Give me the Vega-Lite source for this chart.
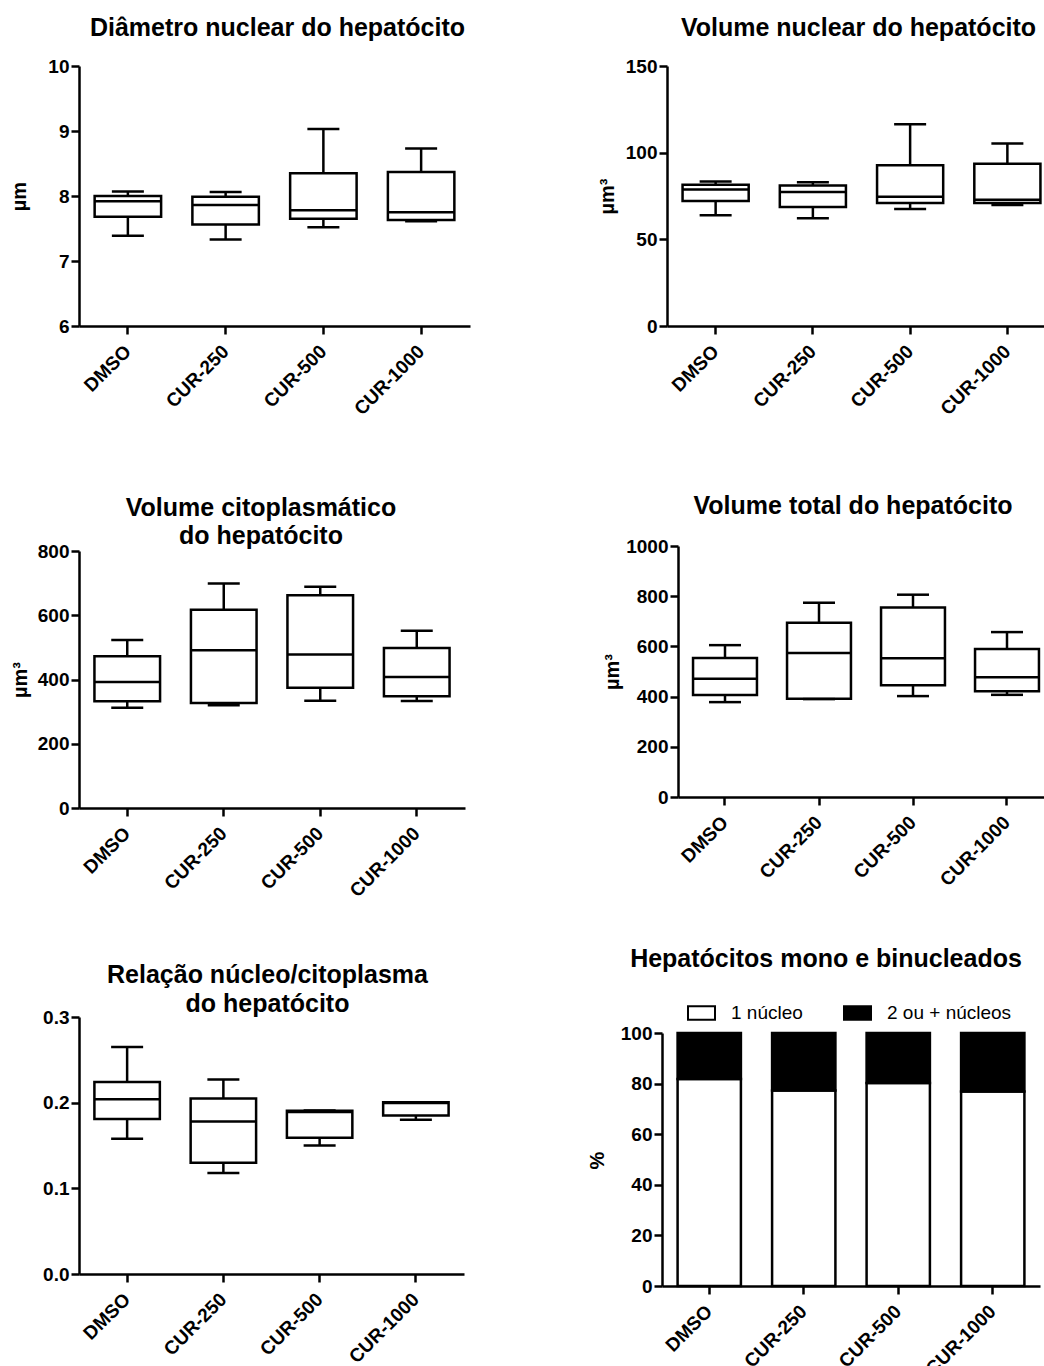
{
  "$schema": "https://vega.github.io/schema/vega-lite/v6.json",
  "background": "white",
  "padding": {"left": 9, "top": 16, "right": 0, "bottom": 0},
  "config": {
    "view": {"stroke": null},
    "font": "Liberation Sans",
    "axis": {
      "grid": false,
      "domainColor": "black",
      "domainWidth": 2.5,
      "tickColor": "black",
      "tickWidth": 2.5,
      "tickSize": 8,
      "labelFont": "Liberation Sans",
      "labelFontSize": 19,
      "labelFontWeight": "bold",
      "labelColor": "black",
      "labelPadding": 2,
      "labelOverlap": false,
      "labelFlush": false,
      "titleFont": "Liberation Sans",
      "titleFontSize": 20,
      "titleFontWeight": "bold",
      "titleColor": "black"
    },
    "axisX": {"labelAngle": -45, "labelAlign": "right", "labelBaseline": "middle", "labelPadding": 14},
    "title": {"font": "Liberation Sans", "fontSize": 25, "fontWeight": "bold", "color": "black", "anchor": "middle", "frame": "group", "lineHeight": 28},
    "mark": {"opacity": 1}
  },
  "datasets": {
    "diametro": [
      {"grupo": "DMSO", "min": 7.39, "q1": 7.68, "mediana": 7.92, "q3": 8.00, "max": 8.07},
      {"grupo": "CUR-250", "min": 7.33, "q1": 7.56, "mediana": 7.86, "q3": 7.99, "max": 8.06},
      {"grupo": "CUR-500", "min": 7.52, "q1": 7.65, "mediana": 7.78, "q3": 8.35, "max": 9.03},
      {"grupo": "CUR-1000", "min": 7.61, "q1": 7.63, "mediana": 7.75, "q3": 8.37, "max": 8.73}
    ],
    "volnuc": [
      {"grupo": "DMSO", "min": 63.9, "q1": 72.1, "mediana": 78.8, "q3": 81.5, "max": 83.4},
      {"grupo": "CUR-250", "min": 62.1, "q1": 68.7, "mediana": 77.3, "q3": 81.1, "max": 83.0},
      {"grupo": "CUR-500", "min": 67.5, "q1": 71.0, "mediana": 74.6, "q3": 92.8, "max": 116.4},
      {"grupo": "CUR-1000", "min": 69.8, "q1": 71.0, "mediana": 72.9, "q3": 93.6, "max": 105.3}
    ],
    "volcit": [
      {"grupo": "DMSO", "min": 312, "q1": 332, "mediana": 392, "q3": 472, "max": 523},
      {"grupo": "CUR-250", "min": 320, "q1": 327, "mediana": 491, "q3": 617, "max": 699},
      {"grupo": "CUR-500", "min": 334, "q1": 374, "mediana": 478, "q3": 662, "max": 689},
      {"grupo": "CUR-1000", "min": 333, "q1": 348, "mediana": 408, "q3": 498, "max": 552}
    ],
    "voltot": [
      {"grupo": "DMSO", "min": 378, "q1": 406, "mediana": 471, "q3": 554, "max": 605},
      {"grupo": "CUR-250", "min": 390, "q1": 391, "mediana": 574, "q3": 694, "max": 774},
      {"grupo": "CUR-500", "min": 402, "q1": 445, "mediana": 553, "q3": 755, "max": 806},
      {"grupo": "CUR-1000", "min": 407, "q1": 421, "mediana": 477, "q3": 590, "max": 657}
    ],
    "relacao": [
      {"grupo": "DMSO", "min": 0.158, "q1": 0.181, "mediana": 0.204, "q3": 0.224, "max": 0.265},
      {"grupo": "CUR-250", "min": 0.118, "q1": 0.130, "mediana": 0.178, "q3": 0.205, "max": 0.227},
      {"grupo": "CUR-500", "min": 0.150, "q1": 0.159, "mediana": 0.189, "q3": 0.1905, "max": 0.191},
      {"grupo": "CUR-1000", "min": 0.180, "q1": 0.185, "mediana": 0.1995, "q3": 0.2005, "max": 0.2005}
    ],
    "nucleos": [
      {"grupo": "DMSO", "tipo": "1 núcleo", "valor": 81.8},
      {"grupo": "DMSO", "tipo": "2 ou + núcleos", "valor": 18.2},
      {"grupo": "CUR-250", "tipo": "1 núcleo", "valor": 77.3},
      {"grupo": "CUR-250", "tipo": "2 ou + núcleos", "valor": 22.7},
      {"grupo": "CUR-500", "tipo": "1 núcleo", "valor": 80.2},
      {"grupo": "CUR-500", "tipo": "2 ou + núcleos", "valor": 19.8},
      {"grupo": "CUR-1000", "tipo": "1 núcleo", "valor": 76.9},
      {"grupo": "CUR-1000", "tipo": "2 ou + núcleos", "valor": 23.1}
    ]
  },
  "spacing": 75,
  "resolve": {"scale": {"color": "independent"}, "legend": {"color": "independent"}},
  "vconcat": [
    {
      "spacing": 127,
      "hconcat": [
        {
          "width": 391, "height": 260,
          "data": {"name": "diametro"},
          "title": {"text": "Diâmetro nuclear do hepatócito", "offset": 16, "dx": 3},
          "encoding": {"x": {"field": "grupo", "type": "nominal", "sort": ["DMSO", "CUR-250", "CUR-500", "CUR-1000"], "scale": {"paddingInner": 0.32, "paddingOuter": 0.16}, "title": null}},
          "layer": [
            {"mark": {"type": "rule", "color": "black", "strokeWidth": 2.5},
             "encoding": {"y": {"field": "min", "type": "quantitative", "title": "µm", "scale": {"domain": [6, 10], "nice": false, "zero": false}, "axis": {"values": [6, 7, 8, 9, 10], "format": "d", "titlePadding": 18}}, "y2": {"field": "max"}}},
            {"mark": {"type": "bar", "fill": "white", "stroke": "black", "strokeWidth": 2.5},
             "encoding": {"y": {"field": "q1", "type": "quantitative", "title": "µm", "scale": {"domain": [6, 10], "nice": false, "zero": false}}, "y2": {"field": "q3"}}},
            {"mark": {"type": "tick", "color": "black", "size": 66, "thickness": 2.5},
             "encoding": {"y": {"field": "mediana", "type": "quantitative", "title": "µm", "scale": {"domain": [6, 10], "nice": false, "zero": false}}}},
            {"mark": {"type": "tick", "color": "black", "size": 32, "thickness": 2.5},
             "encoding": {"y": {"field": "min", "type": "quantitative", "title": "µm", "scale": {"domain": [6, 10], "nice": false, "zero": false}}}},
            {"mark": {"type": "tick", "color": "black", "size": 32, "thickness": 2.5},
             "encoding": {"y": {"field": "max", "type": "quantitative", "title": "µm", "scale": {"domain": [6, 10], "nice": false, "zero": false}}}}
          ]
        },
        {
          "width": 389, "height": 260,
          "data": {"name": "volnuc"},
          "title": {"text": "Volume nuclear do hepatócito", "offset": 16, "dx": -3},
          "encoding": {"x": {"field": "grupo", "type": "nominal", "sort": ["DMSO", "CUR-250", "CUR-500", "CUR-1000"], "scale": {"paddingInner": 0.32, "paddingOuter": 0.16}, "title": null}},
          "layer": [
            {"mark": {"type": "rule", "color": "black", "strokeWidth": 2.5},
             "encoding": {"y": {"field": "min", "type": "quantitative", "title": "µm³", "scale": {"domain": [0, 150], "nice": false}, "axis": {"values": [0, 50, 100, 150], "format": "d", "titlePadding": 8}}, "y2": {"field": "max"}}},
            {"mark": {"type": "bar", "fill": "white", "stroke": "black", "strokeWidth": 2.5},
             "encoding": {"y": {"field": "q1", "type": "quantitative", "title": "µm³", "scale": {"domain": [0, 150], "nice": false}}, "y2": {"field": "q3"}}},
            {"mark": {"type": "tick", "color": "black", "size": 66, "thickness": 2.5},
             "encoding": {"y": {"field": "mediana", "type": "quantitative", "title": "µm³", "scale": {"domain": [0, 150], "nice": false}}}},
            {"mark": {"type": "tick", "color": "black", "size": 32, "thickness": 2.5},
             "encoding": {"y": {"field": "min", "type": "quantitative", "title": "µm³", "scale": {"domain": [0, 150], "nice": false}}}},
            {"mark": {"type": "tick", "color": "black", "size": 32, "thickness": 2.5},
             "encoding": {"y": {"field": "max", "type": "quantitative", "title": "µm³", "scale": {"domain": [0, 150], "nice": false}}}}
          ]
        }
      ]
    },
    {
      "spacing": 46,
      "resolve": {"scale": {"color": "independent"}, "legend": {"color": "independent"}},
      "vconcat": [
        {
          "spacing": 137,
          "hconcat": [
            {
              "width": 386, "height": 262,
              "data": {"name": "volcit"},
              "title": {"text": ["Volume citoplasmático", "do hepatócito"], "offset": -7, "dx": -11},
              "encoding": {"x": {"field": "grupo", "type": "nominal", "sort": ["DMSO", "CUR-250", "CUR-500", "CUR-1000"], "scale": {"paddingInner": 0.32, "paddingOuter": 0.16}, "title": null}},
              "layer": [
                {"mark": {"type": "rule", "color": "black", "strokeWidth": 2.5},
                 "encoding": {"y": {"field": "min", "type": "quantitative", "title": "µm³", "scale": {"domain": [0, 800], "range": [262, 5], "nice": false}, "axis": {"values": [0, 200, 400, 600, 800], "format": "d", "titlePadding": 7}}, "y2": {"field": "max"}}},
                {"mark": {"type": "bar", "fill": "white", "stroke": "black", "strokeWidth": 2.5},
                 "encoding": {"y": {"field": "q1", "type": "quantitative", "title": "µm³", "scale": {"domain": [0, 800], "range": [262, 5], "nice": false}}, "y2": {"field": "q3"}}},
                {"mark": {"type": "tick", "color": "black", "size": 65.5, "thickness": 2.5},
                 "encoding": {"y": {"field": "mediana", "type": "quantitative", "title": "µm³", "scale": {"domain": [0, 800], "range": [262, 5], "nice": false}}}},
                {"mark": {"type": "tick", "color": "black", "size": 32, "thickness": 2.5},
                 "encoding": {"y": {"field": "min", "type": "quantitative", "title": "µm³", "scale": {"domain": [0, 800], "range": [262, 5], "nice": false}}}},
                {"mark": {"type": "tick", "color": "black", "size": 32, "thickness": 2.5},
                 "encoding": {"y": {"field": "max", "type": "quantitative", "title": "µm³", "scale": {"domain": [0, 800], "range": [262, 5], "nice": false}}}}
              ]
            },
            {
              "width": 376, "height": 251,
              "data": {"name": "voltot"},
              "title": {"text": "Volume total do hepatócito", "offset": 18, "dx": -13},
              "encoding": {"x": {"field": "grupo", "type": "nominal", "sort": ["DMSO", "CUR-250", "CUR-500", "CUR-1000"], "scale": {"paddingInner": 0.32, "paddingOuter": 0.16}, "title": null}},
              "layer": [
                {"mark": {"type": "rule", "color": "black", "strokeWidth": 2.5},
                 "encoding": {"y": {"field": "min", "type": "quantitative", "title": "µm³", "scale": {"domain": [0, 1000], "nice": false}, "axis": {"values": [0, 200, 400, 600, 800, 1000], "format": "d", "titlePadding": 3}}, "y2": {"field": "max"}}},
                {"mark": {"type": "bar", "fill": "white", "stroke": "black", "strokeWidth": 2.5},
                 "encoding": {"y": {"field": "q1", "type": "quantitative", "title": "µm³", "scale": {"domain": [0, 1000], "nice": false}}, "y2": {"field": "q3"}}},
                {"mark": {"type": "tick", "color": "black", "size": 64, "thickness": 2.5},
                 "encoding": {"y": {"field": "mediana", "type": "quantitative", "title": "µm³", "scale": {"domain": [0, 1000], "nice": false}}}},
                {"mark": {"type": "tick", "color": "black", "size": 32, "thickness": 2.5},
                 "encoding": {"y": {"field": "min", "type": "quantitative", "title": "µm³", "scale": {"domain": [0, 1000], "nice": false}}}},
                {"mark": {"type": "tick", "color": "black", "size": 32, "thickness": 2.5},
                 "encoding": {"y": {"field": "max", "type": "quantitative", "title": "µm³", "scale": {"domain": [0, 1000], "nice": false}}}}
              ]
            }
          ]
        },
        {
          "spacing": 123,
          "resolve": {"scale": {"color": "independent"}, "legend": {"color": "independent"}},
          "hconcat": [
            {
              "width": 385, "height": 257,
              "data": {"name": "relacao"},
              "title": {"text": ["Relação núcleo/citoplasma", "do hepatócito"], "offset": -9, "dx": -4, "lineHeight": 29},
              "encoding": {"x": {"field": "grupo", "type": "nominal", "sort": ["DMSO", "CUR-250", "CUR-500", "CUR-1000"], "scale": {"paddingInner": 0.32, "paddingOuter": 0.16}, "title": null}},
              "layer": [
                {"mark": {"type": "rule", "color": "black", "strokeWidth": 2.5},
                 "encoding": {"y": {"field": "min", "type": "quantitative", "title": null, "scale": {"domain": [0, 0.3], "nice": false}, "axis": {"values": [0, 0.1, 0.2, 0.3], "format": ".1f"}}, "y2": {"field": "max"}}},
                {"mark": {"type": "bar", "fill": "white", "stroke": "black", "strokeWidth": 2.5},
                 "encoding": {"y": {"field": "q1", "type": "quantitative", "title": null, "scale": {"domain": [0, 0.3], "nice": false}}, "y2": {"field": "q3"}}},
                {"mark": {"type": "tick", "color": "black", "size": 65.5, "thickness": 2.5},
                 "encoding": {"y": {"field": "mediana", "type": "quantitative", "title": null, "scale": {"domain": [0, 0.3], "nice": false}}}},
                {"mark": {"type": "tick", "color": "black", "size": 32, "thickness": 2.5},
                 "encoding": {"y": {"field": "min", "type": "quantitative", "title": null, "scale": {"domain": [0, 0.3], "nice": false}}}},
                {"mark": {"type": "tick", "color": "black", "size": 32, "thickness": 2.5},
                 "encoding": {"y": {"field": "max", "type": "quantitative", "title": null, "scale": {"domain": [0, 0.3], "nice": false}}}}
              ]
            },
            {
              "width": 378, "height": 269,
              "data": {"name": "nucleos"},
              "title": {"text": "Hepatócitos mono e binucleados", "offset": 26, "dx": -25},
              "mark": {"type": "bar", "stroke": "black", "strokeWidth": 2.5},
              "encoding": {
                "x": {"field": "grupo", "type": "nominal", "sort": ["DMSO", "CUR-250", "CUR-500", "CUR-1000"], "scale": {"paddingInner": 0.33, "paddingOuter": 0.165}, "title": null},
                "y": {"field": "valor", "type": "quantitative", "stack": "zero", "title": "%", "scale": {"domain": [0, 100], "range": [269, 16], "nice": false}, "axis": {"values": [0, 20, 40, 60, 80, 100], "format": "d", "titlePadding": 13, "titleY": 143}},
                "color": {"field": "tipo", "type": "nominal", "scale": {"domain": ["1 núcleo", "2 ou + núcleos"], "range": ["white", "black"]},
                  "legend": {"orient": "none", "legendX": 25, "legendY": -19, "direction": "horizontal", "title": null, "padding": 0,
                    "symbolType": "M-1,-0.5H1V0.5H-1Z", "symbolSize": 729, "symbolStrokeColor": "black", "symbolStrokeWidth": 2, "symbolOpacity": 1,
                    "labelFont": "Liberation Sans", "labelFontSize": 19, "labelFontWeight": "normal", "labelColor": "black", "labelOffset": 15, "columnPadding": 37}},
                "order": {"field": "tipo", "sort": "ascending"}
              }
            }
          ]
        }
      ]
    }
  ]
}
